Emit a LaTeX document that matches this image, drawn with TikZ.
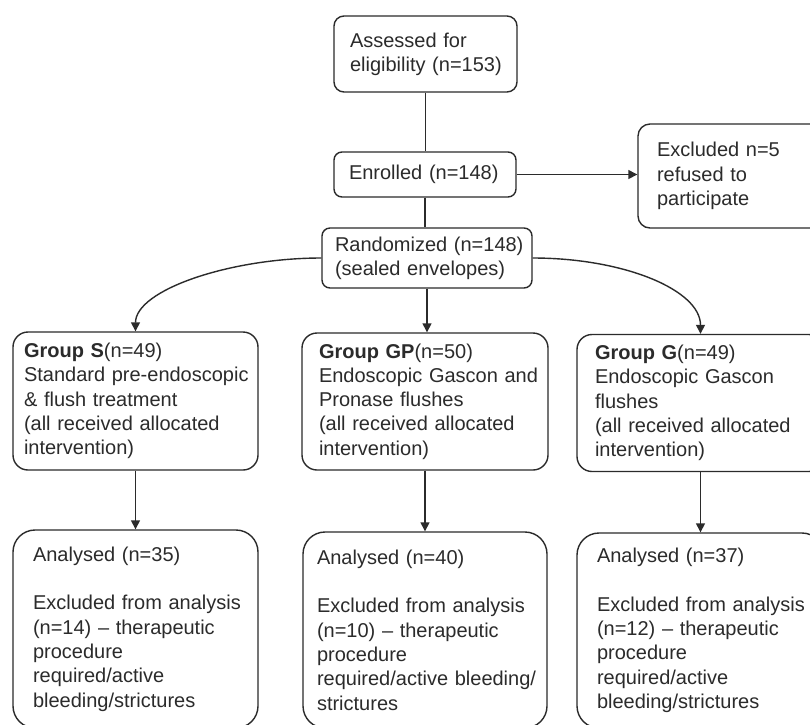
\documentclass[tikz,border=0pt]{standalone}
\usepackage{fontspec}
\setmainfont{Liberation Sans}
\usetikzlibrary{arrows.meta}
\definecolor{ink}{HTML}{2B2B2B}
\newcommand{\keepline}[1]{\mbox{#1}}
\begin{document}
\begin{tikzpicture}[x=1pt,y=-1pt,
  box/.style={draw=ink, line width=1.4pt, text=ink, align=left,
    font=\fontsize{20}{24.3}\selectfont, inner ysep=0pt},
  conn/.style={draw=ink, line width=1.4pt},
  arr/.style={conn, -{Triangle[length=9pt,width=9pt]}}]
\useasboundingbox (0,0) rectangle (810,724);
\clip (0,0) rectangle (810,724);
\fill[white] (0,0) rectangle (810,724);

% top column
\node[box, rounded corners=10pt, minimum width=183pt, minimum height=76pt,
  text width=151pt, inner xsep=16pt] (assess) at (425.5,54)
  {\keepline{Assessed for}\\\keepline{eligibility (n=153)}};
\node[box, rounded corners=8pt, minimum width=182pt, minimum height=45pt,
  text width=152pt, inner xsep=15pt] (enroll) at (425,174.5)
  {\keepline{Enrolled (n=148)}};
\node[box, rounded corners=8pt, minimum width=210pt, minimum height=60pt,
  text width=184pt, inner xsep=13pt] (rand) at (427,258)
  {\keepline{Randomized (n=148)}\\\keepline{(sealed envelopes)}};
\node[box, rounded corners=12pt, minimum width=184pt, minimum height=104pt,
  text width=146pt, inner xsep=19pt] (excl) at (730,176)
  {\keepline{Excluded n=5}\\\keepline{refused to}\\participate};

% groups
\node[box, rounded corners=15pt, minimum width=245pt, minimum height=138pt,
  text width=223pt, inner xsep=11pt] (gS) at (135.5,401)
  {\keepline{\textbf{Group S}(n=49)}\\\keepline{Standard pre-endoscopic}\\\keepline{\& flush treatment}\\\keepline{(all received allocated}\\intervention)};
\node[box, rounded corners=15pt, minimum width=246pt, minimum height=137pt,
  text width=212pt, inner xsep=17pt] (gGP) at (425,401.5)
  {\keepline{\textbf{Group GP}(n=50)}\\\keepline{Endoscopic Gascon and}\\\keepline{Pronase flushes}\\\keepline{(all received allocated}\\intervention)};
\node[box, rounded corners=15pt, minimum width=247pt, minimum height=137pt,
  text width=211pt, inner xsep=18pt] (gG) at (700.5,403)
  {\keepline{\textbf{Group G}(n=49)}\\\keepline{Endoscopic Gascon}\\flushes\\\keepline{(all received allocated}\\intervention)};

% analysed
\node[box, rounded corners=22pt, minimum width=245pt, minimum height=198pt,
  text width=205pt, inner xsep=20pt] (aS) at (135.5,629)
  {\keepline{Analysed (n=35)}\\[24.3pt]\keepline{Excluded from analysis}\\\keepline{(n=14) – therapeutic}\\procedure\\required/active\\bleeding/strictures};
\node[box, rounded corners=22pt, minimum width=244pt, minimum height=196pt,
  text width=216pt, inner xsep=14pt] (aGP) at (425,630)
  {\keepline{Analysed (n=40)}\\[24.3pt]\keepline{Excluded from analysis}\\\keepline{(n=10) – therapeutic}\\procedure\\\keepline{required/active bleeding/}\\strictures};
\node[box, rounded corners=22pt, minimum width=247pt, minimum height=195pt,
  text width=207pt, inner xsep=20pt] (aG) at (700.5,630.5)
  {\keepline{Analysed (n=37)}\\[24.3pt]\keepline{Excluded from analysis}\\\keepline{(n=12) – therapeutic}\\procedure\\required/active\\bleeding/strictures};

% connectors
\draw[conn] (assess.south) -- (assess.south |- enroll.north);
\draw[conn] (enroll.south) -- (enroll.south |- rand.north);
\draw[arr] (enroll.east) -- (enroll.east -| excl.west);
\draw[arr] (rand.south) -- (rand.south |- gGP.north);
\draw[arr] (rand.west) .. controls (230,258) and (gS.north |- 0,290) .. (gS.north);
\draw[arr] (rand.east) .. controls (624,258) and (gG.north |- 0,290) .. (gG.north);
\draw[arr] (gS.south) -- (aS.north);
\draw[arr] (gGP.south) -- (aGP.north);
\draw[arr] (gG.south) -- (aG.north);
\end{tikzpicture}
\end{document}
